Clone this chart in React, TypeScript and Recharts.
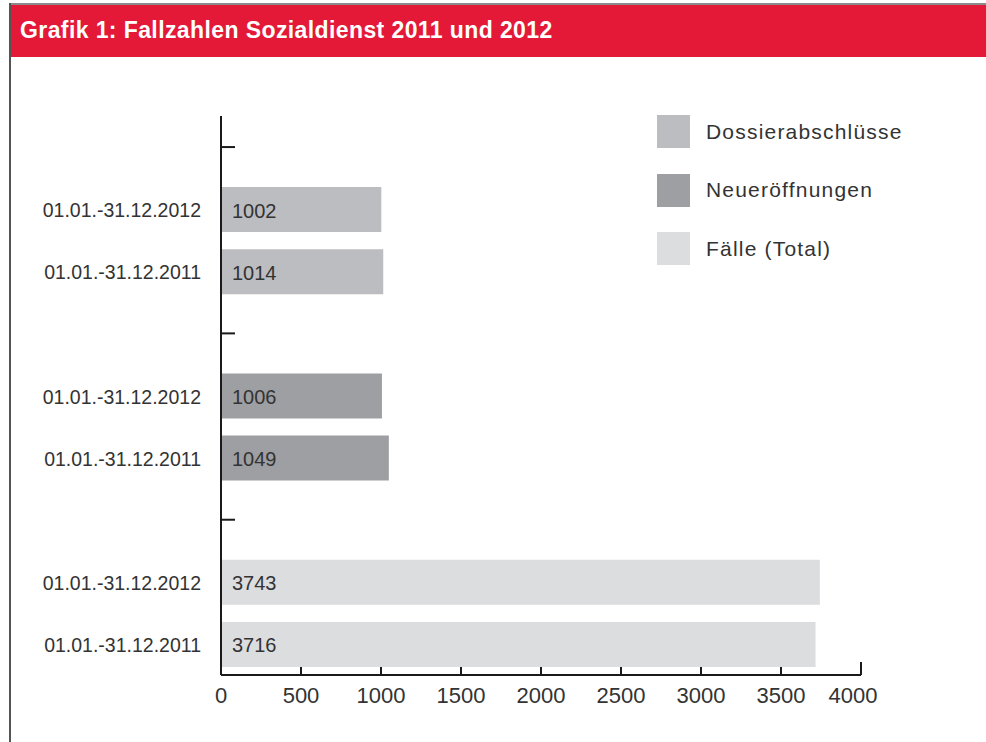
import { BarChart, Bar, XAxis, YAxis, Cell, LabelList } from 'recharts';

// Zeiträume und Werte
const periods = ['01.01.-31.12.2012', '01.01.-31.12.2011'];
const dossierabschluesse = [1002, 1014];
const neueroeffnungen = [1006, 1049];
const faelleTotal = [3743, 3716];
const xTicks = [0, 500, 1000, 1500, 2000, 2500, 3000, 3500, 4000];

const SERIES = [
  { name: 'Dossierabschlüsse', color: '#bcbdc0', values: dossierabschluesse },
  { name: 'Neueröffnungen', color: '#9d9fa2', values: neueroeffnungen },
  { name: 'Fälle (Total)', color: '#dcdddf', values: faelleTotal },
];

interface Row {
  id: string;
  label: string;
  value: number | null;
  color: string;
}

// each group: an empty spacer row (carries the axis tick), then the two periods
const rows: Row[] = [];
SERIES.forEach((s, gi) => {
  rows.push({ id: `g${gi}`, label: '', value: null, color: s.color });
  periods.forEach((p, pi) => {
    rows.push({ id: `r${gi}-${pi}`, label: p, value: s.values[pi], color: s.color });
  });
});

const FONT = '"Liberation Sans", Arial, Helvetica, sans-serif';
const TEXT = '#333333';

function YTick(props: any) {
  const { x, y, index } = props;
  const row = rows[index];
  if (!row || !row.label) {
    return <line x1={x} y1={y} x2={x + 14} y2={y} stroke="#1a1a1a" strokeWidth={2} />;
  }
  return (
    <text x={x - 20} y={y + 1} textAnchor="end" dominantBaseline="central" fontSize={19.5} fill={TEXT} fontFamily={FONT}>
      {row.label}
    </text>
  );
}

function XTick(props: any) {
  const { x, y, payload } = props;
  const last = payload.value === 4000;
  return (
    <g>
      <line x1={x} y1={y} x2={x} y2={y - (last ? 13 : 8)} stroke="#1a1a1a" strokeWidth={2} />
      <text x={last ? x - 8 : x} y={y + 28} textAnchor="middle" fontSize={22} fill={TEXT} fontFamily={FONT}>
        {payload.value}
      </text>
    </g>
  );
}

function ValueLabel(props: any) {
  const { x, y, height, value } = props;
  if (value == null) return null;
  return (
    <text x={x + 11} y={y + height / 2 + 1} dominantBaseline="central" fontSize={20} fill={TEXT} fontFamily={FONT}>
      {value}
    </text>
  );
}

export default function App() {
  return (
    <div style={{ position: 'absolute', left: 0, top: 0, width: 986, height: 742, background: '#fff', overflow: 'hidden' }}>
      <div style={{ position: 'absolute', left: 10, top: 3, right: 0, height: 2, background: '#8a8a8a' }} />
      <div style={{ position: 'absolute', left: 9, top: 3, width: 2, bottom: 0, background: '#555' }} />
      <div
        style={{
          position: 'absolute',
          left: 11,
          top: 5,
          right: 0,
          height: 52,
          background: '#e31937',
          color: '#fff',
          fontFamily: FONT,
          fontWeight: 'bold',
          fontSize: 23,
          letterSpacing: 0.4,
          lineHeight: '50px',
          paddingLeft: 9,
        }}
      >
        Grafik 1: Fallzahlen Sozialdienst 2011 und 2012
      </div>
      <div style={{ position: 'absolute', left: 0, top: 0 }}>
        <BarChart
          width={986}
          height={742}
          data={rows}
          layout="vertical"
          margin={{ top: 116, right: 125, bottom: 0, left: 0 }}
          barSize={45}
        >
          <XAxis
            type="number"
            domain={[0, 4000]}
            ticks={xTicks}
            tick={<XTick />}
            tickLine={false}
            tickSize={0}
            tickMargin={0}
            axisLine={{ stroke: '#1a1a1a', strokeWidth: 2 }}
            height={67}
            interval={0}
          />
          <YAxis
            type="category"
            dataKey="id"
            width={221}
            tick={<YTick />}
            tickLine={false}
            tickSize={0}
            tickMargin={0}
            axisLine={{ stroke: '#1a1a1a', strokeWidth: 2 }}
            interval={0}
          />
          <Bar dataKey="value" isAnimationActive={false}>
            {rows.map((r) => (
              <Cell key={r.id} fill={r.color} />
            ))}
            <LabelList dataKey="value" content={<ValueLabel />} />
          </Bar>
        </BarChart>
      </div>
      {/* legend */}
      <div style={{ position: 'absolute', left: 657, top: 115, fontFamily: FONT }}>
        {SERIES.map((s) => (
          <div key={s.name} style={{ display: 'flex', alignItems: 'center', height: 33, marginBottom: 25.5 }}>
            <div style={{ width: 33, height: 33, background: s.color }} />
            <span style={{ marginLeft: 16, fontSize: 21, letterSpacing: 1.2, color: TEXT }}>{s.name}</span>
          </div>
        ))}
      </div>
    </div>
  );
}
